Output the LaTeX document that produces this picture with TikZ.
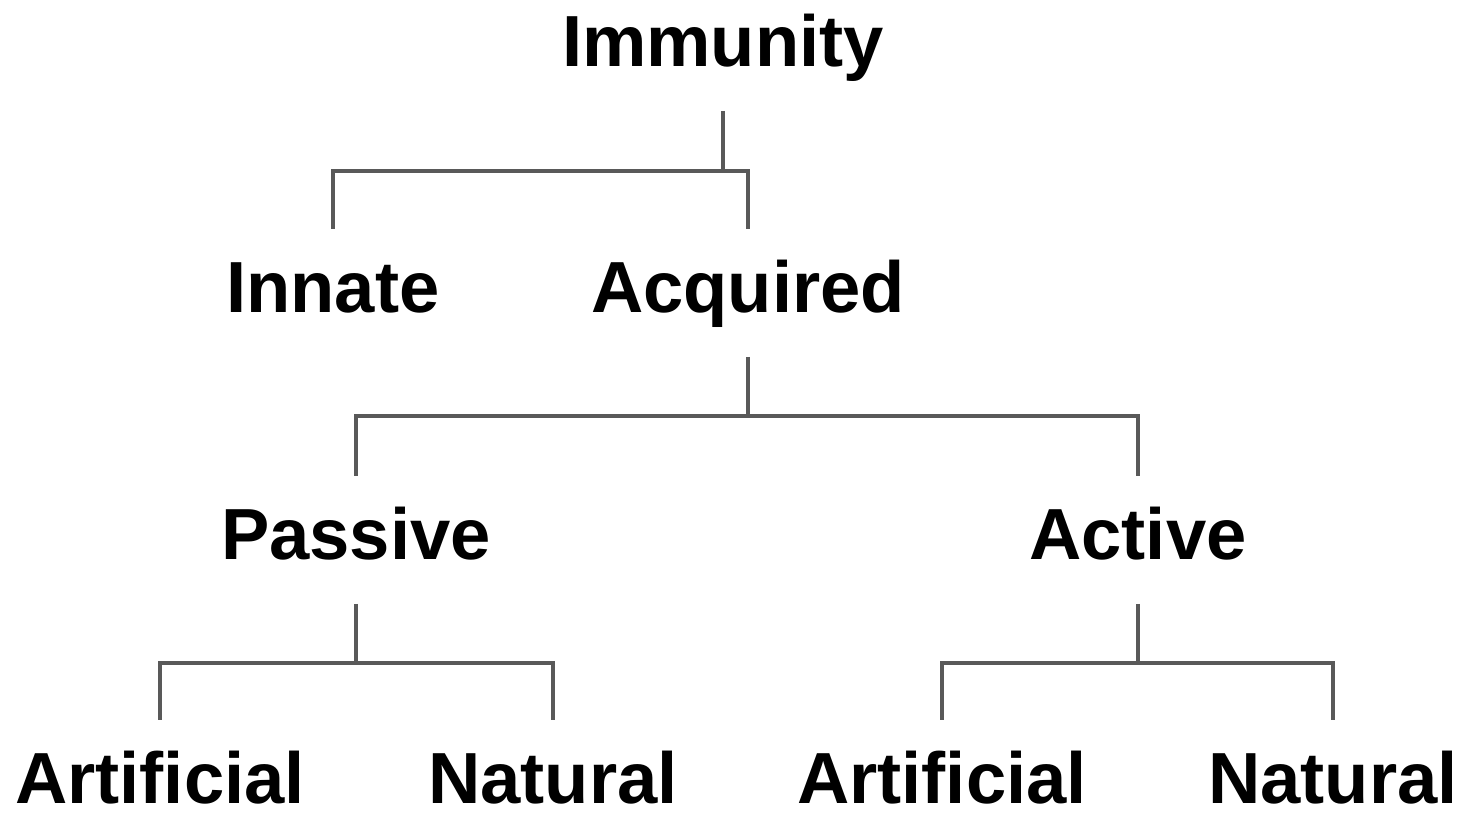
\documentclass[tikz,border=0pt]{standalone}
\usepackage{fontspec}
\setmainfont{Liberation Sans}
\begin{document}
\begin{tikzpicture}[
    word/.style={font=\bfseries\fontsize{20.6}{25}\selectfont, inner sep=0pt,
      outer sep=0.29cm, text height=0.55cm, text depth=0.15cm, anchor=base},
    link/.style={draw=black!65, line width=1.3pt}
  ]
  \useasboundingbox (0,0) rectangle (14.65,8.14);
  \node[word] (immunity) at (7.23,7.47) {Immunity};
  \node[word] (innate) at (3.33,5.01) {Innate};
  \node[word] (acquired) at (7.48,5.01) {Acquired};
  \node[word] (passive) at (3.56,2.54) {Passive};
  \node[word] (active) at (11.38,2.54) {Active};
  \node[word] (partificial) at (1.60,0.10) {Artificial};
  \node[word] (pnatural) at (5.53,0.10) {Natural};
  \node[word] (aartificial) at (9.42,0.10) {Artificial};
  \node[word] (anatural) at (13.33,0.10) {Natural};
  % brackets
  \draw[link] (immunity.south) -- ++(0,-0.6) coordinate (b1) -| (innate.north);
  \draw[link] (b1) -| (acquired.north);
  \draw[link] (acquired.south) -- ++(0,-0.59) coordinate (b2) -| (passive.north);
  \draw[link] (b2) -| (active.north);
  \draw[link] (passive.south) -- ++(0,-0.59) coordinate (b3) -| (partificial.north);
  \draw[link] (b3) -| (pnatural.north);
  \draw[link] (active.south) -- ++(0,-0.59) coordinate (b4) -| (aartificial.north);
  \draw[link] (b4) -| (anatural.north);
\end{tikzpicture}
\end{document}
